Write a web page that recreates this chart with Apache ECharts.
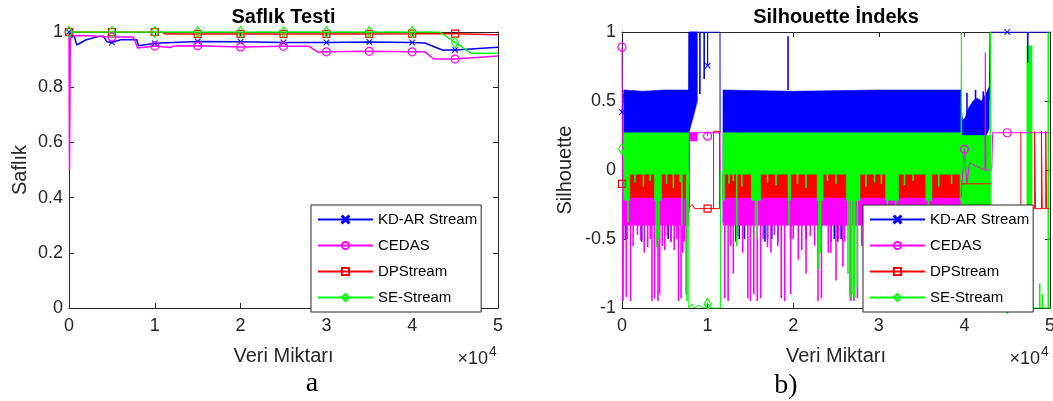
<!DOCTYPE html>
<html>
<head>
<meta charset="utf-8">
<script src="https://cdn.jsdelivr.net/npm/echarts@6/dist/echarts.min.js"></script>
<style>
html,body{margin:0;padding:0;background:#ffffff;}
#chart{width:1053px;height:401px;}
</style>
</head>
<body>
<div id="chart"></div>
<script>
// ---------------- categories / ticks ----------------
const methodNames = ['KD-AR Stream', 'CEDAS', 'DPStream', 'SE-Stream'];
const xTickValues = [0, 10000, 20000, 30000, 40000, 50000];
const xTickLabels = ['0', '1', '2', '3', '4', '5'];
const safYTickValues = [0, 0.2, 0.4, 0.6, 0.8, 1];
const safYTickLabels = ['0', '0.2', '0.4', '0.6', '0.8', '1'];
const silYTickValues = [-1, -0.5, 0, 0.5, 1];
const silYTickLabels = ['-1', '-0.5', '0', '0.5', '1'];

// ---------------- (a) Saflık Testi ----------------
const safKdX = [0, 300, 600, 900, 2000, 3600, 4000, 4400, 5000, 6000, 7500, 7900, 8100, 10000, 15000, 20000, 25000, 30000, 35000, 40000, 41500, 43500, 45000, 50000];
const safKdY = [1.0, 0.98, 0.987, 0.953, 0.972, 0.985, 0.985, 0.965, 0.962, 0.972, 0.973, 0.972, 0.95, 0.959, 0.966, 0.965, 0.962, 0.962, 0.964, 0.962, 0.96, 0.935, 0.935, 0.945];
const safCeX = [0, 60, 150, 1000, 2500, 4000, 5000, 7500, 8000, 10000, 11800, 12200, 15000, 20000, 25000, 28000, 29000, 30000, 35000, 40000, 41500, 42500, 45000, 50000];
const safCeY = [1.0, 0.5, 0.985, 0.987, 0.986, 0.983, 0.982, 0.982, 0.942, 0.949, 0.944, 0.949, 0.95, 0.946, 0.948, 0.948, 0.927, 0.928, 0.93, 0.928, 0.928, 0.902, 0.902, 0.913];
const safDpX = [0, 5000, 10000, 10800, 11200, 15000, 20000, 25000, 30000, 35000, 40000, 42000, 45000, 50000];
const safDpY = [1.0, 1.0, 1.0, 1.0, 0.993, 0.993, 0.993, 0.993, 0.993, 0.993, 0.994, 0.995, 0.994, 0.99];
const safSeX = [0, 5000, 10000, 15000, 20000, 25000, 30000, 35000, 40000, 43200, 45000, 46900, 50000];
const safSeY = [1, 1, 1, 1, 1, 1, 1, 1, 1, 1, 0.962, 0.923, 0.923];

// ---------------- (b) Silhouette İndeks ----------------
// KD-AR Stream
const silKdPathX = [0, 150, 150, 7800, 7850, 9990, 10000, 10010, 11450, 11460, 11460, 42900, 43000, 45000, 47350, 47400, 47450, 50000];
const silKdPathY = [0.42, 0.55, null, 0.30, 1, 1, 0.756, 1, 1, 0.27, null, 0.5, 1, 1, 1, 0.78, 1, 1];
const silKdBandX  = [200, 2500, 5000, 7800, null, 7800, 7900, 8400, 8800, null, 11800, 20000, 30000, 39600, null, 39600, 39800, 40100, 40500, 41000, 41500, 42000, 42500, 42900];
const silKdBandLo = [-0.38, -0.38, -0.38, -0.38, null, 0.27, 0.29, 0.40, 0.50, null, -0.38, -0.38, -0.38, -0.38, null, 0.2, 0.2, 0.16, 0.18, 0.2, 0.2, 0.22, 0.24, 0.3];
const silKdBandHi = [0.58, 0.57, 0.58, 0.58, null, 1, 1, 1, 1, null, 0.58, 0.57, 0.58, 0.58, null, 0.45, 0.36, 0.38, 0.45, 0.5, 0.52, 0.5, 0.55, 0.6];
const silKdSpikeX    = [9100, 9600, 19400, 400, 2300, 5400, 5700, 7100, 13300, 13700, 14300, 16700, 17000, 17500, 18200, 19700, 21500, 24400, 24800, 25200, 25600, 40300, 41300, 42200];
const silKdSpikeFrom = [0.55, 0.66, 0.58, -0.38, -0.38, -0.38, -0.38, -0.38, -0.38, -0.38, -0.38, -0.38, -0.38, -0.38, -0.38, -0.38, -0.38, -0.38, -0.38, -0.38, -0.38, 0.12, 0.12, 0.15];
const silKdSpikeTo   = [1, 1, 0.97, -0.5, -0.52, -0.5, -0.52, -0.5, -0.52, -0.5, -0.5, -0.52, -0.5, -0.5, -0.52, -0.5, -0.5, -0.52, -0.5, -0.52, -0.5, 0.56, 0.58, 0.57];

// CEDAS
const silCePathX = [0, 100, 200, 200, 7850, 7900, 9990, 10000, 10010, 11450, 11500, 11500, 39600, 40000, 40300, 40600, 42400, 42450, 42500, 43200, 43300, 45000, 50000];
const silCePathY = [0.89, -0.95, -0.3, null, -0.3, 0.27, 0.27, 0.245, 0.27, 0.27, -0.2, null, -0.2, 0.15, -0.1, 0.05, 0.0, 0.85, 0.0, 0.0, 0.27, 0.27, 0.27];
const silCeBandX  = [200, 7800, null, 7900, 8800, null, 11800, 39600, null, 39600, 43000];
const silCeBandLo = [-0.40, -0.40, null, 0.21, 0.21, null, -0.40, -0.40, null, -0.35, -0.35];
const silCeBandHi = [-0.12, -0.12, null, 0.27, 0.27, null, -0.12, -0.12, null, -0.05, -0.05];
const silCeSpikeX  = [100, 500, 1000, 2200, 3000, 3500, 3800, 4200, 4400, 5000, 5700, 6600, 6900, 7100, 7500, 12000, 12400, 13000, 14700, 15000, 15400, 15800, 16200, 17400, 18600, 19000, 19700, 20600, 21500, 22900, 23300, 24100, 25000, 25800, 26700, 27100, 27500, 28500, 29500, 30400, 31000, 31300, 32000, 33000, 34800, 36000, 37500, 38500, 39500, 40800, 41300, 41800, 42300,
  600, 1300, 1800, 2600, 3300, 4700, 5300, 6100, 6400, 7300, 12700, 13500, 14100, 16500, 17000, 17800, 18200, 20000, 21000, 22000, 22500, 24400, 25300, 26000, 28000, 29000, 30000, 32500, 33500, 34200, 35200, 35800, 36600, 37000, 38000, 39000];
const silCeSpikeFrom = -0.35;
const silCeSpikeTo = [-0.95, -0.92, -0.95, -0.51, -0.56, -0.95, -0.93, -0.95, -0.9, -0.58, -0.52, -0.95, -0.93, -0.6, -0.9, -0.93, -0.95, -0.75, -0.93, -0.95, -0.9, -0.95, -0.93, -0.6, -0.93, -0.95, -0.9, -0.65, -0.75, -0.95, -0.93, -0.6, -0.8, -0.7, -0.95, -0.95, -0.93, -0.75, -0.7, -0.8, -0.9, -0.88, -0.75, -0.6, -0.9, -0.7, -0.88, -0.65, -0.9, -0.92, -0.9, -0.93, -0.88,
  -0.5, -0.55, -0.47, -0.6, -0.5, -0.55, -0.48, -0.58, -0.5, -0.52, -0.55, -0.48, -0.6, -0.5, -0.56, -0.47, -0.55, -0.5, -0.58, -0.48, -0.55, -0.6, -0.5, -0.52, -0.55, -0.48, -0.6, -0.5, -0.55, -0.47, -0.52, -0.58, -0.5, -0.55, -0.48, -0.6];

// DPStream
const silDpPathX = [0, 200, 200, 7800, 7900, 8200, 8500, 10000, 10700, 10700, 11400, 11400, 10700, 10700, 39600, 43200, 43200, 46600, 46600, 48200, 48200, 48300, 48300, 49000, 49000, 49100, 49100, 49500, 49500, 49600, 49600, 50000];
const silDpPathY = [-0.1, -0.1, null, -0.1, -0.27, -0.25, -0.28, -0.28, -0.28, 0.28, 0.28, -0.28, -0.28, null, -0.1, -0.1, null, 0.28, -0.28, -0.28, 0.28, 0.28, -0.28, -0.28, 0.28, 0.28, -0.28, -0.28, 0.28, 0.28, -0.28, -0.28];
const silDpBandX  = [200, 7800, null, 11800, 39600];
const silDpBandLo = [-0.2, -0.2, null, -0.2, -0.2];
const silDpBandHi = [-0.03, -0.03, null, -0.03, -0.03];

// SE-Stream
const silSePathX = [0, 200, 200, 7790, 7800, 8200, 8400, 9000, 9500, 10000, 10500, 11500, 11510, 11510, 39600, 39650, 39700, 39700, 43000, 43050, 43100, 45000, 50000];
const silSePathY = [0.152, 0.1, null, 0.0, -1, -0.97, -1, -0.98, -1, -0.97, -1, -1, 0.0, null, 0.1, 1, 0.0, null, 0.0, 1, -1, -1, -1];
const silSeBandX  = [200, 900, 900, 3800, 3800, 4600, 4600, 7500, 7500, 7800, null,
  11800, 12000, 12000, 15100, 15100, 16200, 16200, 19400, 19400, 19700, 19700, 22800, 22800, 23500, 23500, 26200, 26200, 27800, 27800, 30800, 30800, 32300, 32300, 35500, 35500, 36200, 36200, 39500, 39500, 39600, null,
  39600, 43000, null, 47300, 47900];
const silSeBandLo = [-0.22, -0.22, -0.03, -0.03, -0.22, -0.22, -0.03, -0.03, -0.22, -0.22, null,
  -0.22, -0.22, -0.03, -0.03, -0.22, -0.22, -0.03, -0.03, -0.22, -0.22, -0.03, -0.03, -0.22, -0.22, -0.03, -0.03, -0.22, -0.22, -0.03, -0.03, -0.22, -0.22, -0.03, -0.03, -0.22, -0.22, -0.03, -0.03, -0.22, -0.22, null,
  -0.3, -0.3, null, -1, -1];
const silSeBandHi = [0.27, 0.27, 0.27, 0.27, 0.27, 0.27, 0.27, 0.27, 0.27, 0.27, null,
  0.27, 0.27, 0.27, 0.27, 0.27, 0.27, 0.27, 0.27, 0.27, 0.27, 0.27, 0.27, 0.27, 0.27, 0.27, 0.27, 0.27, 0.27, 0.27, 0.27, 0.27, 0.27, 0.27, 0.27, 0.27, 0.27, 0.27, 0.27, 0.27, 0.27, null,
  0.25, 0.25, null, 0.9, 0.9];
const silSeSpikeX    = [700, 4000, 4300, 7000, 7600, 13400, 15600, 15800, 19500, 23000, 23200, 26400, 26600, 26800, 27000, 27200, 27500, 31000, 32000, 35800, 40500, 40900, 41500, 42000, 42800, 46100, 46500, 48800, 49100, 49800,
  1500, 2500, 3300, 5200, 6000, 6800, 12500, 13000, 14000, 17000, 18000, 20500, 21500, 24000, 25000, 28500, 29500, 30300, 33000, 34000, 37000, 38500];
const silSeSpikeFrom = [0, 0, 0, 0, 0, 0, 0, 0, 0, 0, 0, 0, 0, 0, 0, 0, 0, 0, 0, 0, 0, 0, 0, 0, 0, -1, -1, -1, -1, -1,
  0, 0, 0, 0, 0, 0, 0, 0, 0, 0, 0, 0, 0, 0, 0, 0, 0, 0, 0, 0, 0, 0];
const silSeSpikeTo   = [-0.38, -0.56, -0.5, -0.4, -0.95, -0.55, -0.4, -0.5, -0.4, -0.72, -0.6, -0.75, -0.92, -0.95, -0.9, -0.93, -0.85, -0.5, -0.55, -0.45, -0.6, -0.9, -0.7, -0.85, -0.9, -0.9, -0.82, -0.82, -0.9, 1,
  -0.09, -0.12, -0.08, -0.1, -0.13, -0.09, -0.1, -0.08, -0.12, -0.09, -0.11, -0.1, -0.13, -0.08, -0.1, -0.12, -0.09, -0.1, -0.11, -0.08, -0.12, -0.1];

// ---------------- styling ----------------
const AX = '#262626';
const FONT = '"Liberation Sans", Arial, Helvetica, sans-serif';
const COLORS = {'KD-AR Stream': '#0000ff', 'CEDAS': '#ff00ff', 'DPStream': '#ff0000', 'SE-Stream': '#00ff00'};
const XMARK = 'path://M0,1 L1,0 L5,4 L9,0 L10,1 L6,5 L10,9 L9,10 L5,6 L1,10 L0,9 L4,5 Z';
const SYM = {
  'KD-AR Stream': {symbol: XMARK, size: 6, solid: true},
  'CEDAS': {symbol: 'circle', size: 8},
  'DPStream': {symbol: 'rect', size: 7},
  'SE-Stream': {symbol: 'diamond', size: [7, 11]}
};

function tickFmt(vals, labels) {
  return function (v) {
    const i = vals.findIndex(t => Math.abs(t - v) < 1e-6);
    return i < 0 ? '' : labels[i];
  };
}

function pathSeries(name, X, Y, axisIdx, width) {
  const c = COLORS[name], s = SYM[name];
  const data = X.map((x, i) => {
    const y = Y[i] == null ? '-' : Y[i];
    const marked = Y[i] != null && x % 5000 === 0 && x < 50000;
    return marked ? {value: [x, y]} : {value: [x, y], symbol: 'none'};
  });
  return {
    type: 'line', name, xAxisIndex: axisIdx, yAxisIndex: axisIdx, data,
    symbol: s.symbol, symbolSize: s.size, symbolKeepAspect: true, showSymbol: true,
    connectNulls: false, animation: false, silent: true,
    lineStyle: {color: c, width: width},
    itemStyle: s.solid ? {color: c, borderColor: c, borderWidth: 0.3}
                       : {color: 'rgba(255,255,255,0)', borderColor: c, borderWidth: 1.2},
    emphasis: {disabled: true}
  };
}

function bandSeries(name, X, LO, HI) {
  const c = COLORS[name];
  const data = [];
  X.forEach((x, i) => { if (x != null) data.push([x, LO[i], HI[i]]); });
  return {
    type: 'custom', name, coordinateSystem: 'cartesian2d', xAxisIndex: 2, yAxisIndex: 2,
    silent: true, animation: false, data, encode: {x: 0, y: [1, 2]},
    renderItem: function (params, api) {
      if (params.dataIndex !== 0) return null;
      const children = [];
      let seg = [];
      const flush = () => {
        if (seg.length > 1) {
          const top = seg.map(i => api.coord([X[i], HI[i]]));
          const bot = seg.slice().reverse().map(i => api.coord([X[i], LO[i]]));
          children.push({type: 'polygon', shape: {points: top.concat(bot)},
            style: {fill: c, stroke: c, lineWidth: 0.6}});
        }
        seg = [];
      };
      for (let i = 0; i < X.length; i++) { if (X[i] == null) flush(); else seg.push(i); }
      flush();
      return {type: 'group', children};
    }
  };
}

function spikeSeries(name, X, FROM, TO) {
  const c = COLORS[name];
  return {
    type: 'custom', name, coordinateSystem: 'cartesian2d', xAxisIndex: 2, yAxisIndex: 2,
    silent: true, animation: false,
    data: X.map((x, i) => [x, Array.isArray(FROM) ? FROM[i] : FROM, TO[i]]),
    encode: {x: 0, y: [1, 2]},
    renderItem: function (params, api) {
      const a = api.coord([api.value(0), api.value(1)]);
      const b = api.coord([api.value(0), api.value(2)]);
      return {type: 'line', shape: {x1: a[0], y1: a[1], x2: b[0], y2: b[1]},
        style: {stroke: c, lineWidth: 1.6}};
    }
  };
}

function xAxisDef(gridIndex, position, withLabels) {
  return {
    gridIndex, type: 'value', position, min: 0, max: 50000, interval: 10000,
    axisLine: {show: true, onZero: false, lineStyle: {color: AX, width: 1}},
    axisTick: {show: true, inside: true, length: 5, lineStyle: {color: AX, width: 1}},
    axisLabel: {show: withLabels, margin: 9, fontSize: 18, color: AX, fontFamily: FONT,
      formatter: tickFmt(xTickValues, xTickLabels)},
    splitLine: {show: false},
    name: withLabels ? 'Veri Miktarı' : '', nameLocation: 'middle', nameGap: 38,
    nameTextStyle: {fontSize: 20, color: AX, fontFamily: FONT}
  };
}
function yAxisDef(gridIndex, position, withLabels, min, max, interval, vals, labels, name, gap) {
  return {
    gridIndex, type: 'value', position, min, max, interval,
    axisLine: {show: true, onZero: false, lineStyle: {color: AX, width: 1}},
    axisTick: {show: true, inside: true, length: 5, lineStyle: {color: AX, width: 1}},
    axisLabel: {show: withLabels, margin: 6, fontSize: 18, color: AX, fontFamily: FONT,
      formatter: tickFmt(vals, labels)},
    splitLine: {show: false},
    name: withLabels ? name : '', nameLocation: 'middle', nameRotate: 90, nameGap: gap,
    nameTextStyle: {fontSize: 20, color: AX, fontFamily: FONT}
  };
}

const legendCommon = {
  data: methodNames, orient: 'vertical', top: 205,
  itemWidth: 55, itemHeight: 9, itemGap: 11, padding: [7, 4, 7, 6],
  backgroundColor: '#ffffff', borderColor: AX, borderWidth: 1, borderRadius: 0,
  selectedMode: false,
  textStyle: {fontSize: 15, color: '#000000', fontFamily: FONT}
};

const series = [
  pathSeries('KD-AR Stream', safKdX, safKdY, 0, 1.5),
  pathSeries('CEDAS', safCeX, safCeY, 0, 1.5),
  pathSeries('DPStream', safDpX, safDpY, 0, 1.5),
  pathSeries('SE-Stream', safSeX, safSeY, 0, 1.5),

  bandSeries('KD-AR Stream', silKdBandX, silKdBandLo, silKdBandHi),
  spikeSeries('KD-AR Stream', silKdSpikeX, silKdSpikeFrom, silKdSpikeTo),
  pathSeries('KD-AR Stream', silKdPathX, silKdPathY, 2, 1),

  bandSeries('CEDAS', silCeBandX, silCeBandLo, silCeBandHi),
  spikeSeries('CEDAS', silCeSpikeX, silCeSpikeFrom, silCeSpikeTo),
  pathSeries('CEDAS', silCePathX, silCePathY, 2, 1),

  bandSeries('DPStream', silDpBandX, silDpBandLo, silDpBandHi),
  pathSeries('DPStream', silDpPathX, silDpPathY, 2, 1),

  bandSeries('SE-Stream', silSeBandX, silSeBandLo, silSeBandHi),
  spikeSeries('SE-Stream', silSeSpikeX, silSeSpikeFrom, silSeSpikeTo),
  pathSeries('SE-Stream', silSePathX, silSePathY, 2, 1)
];

const chart = echarts.init(document.getElementById('chart'), null, {renderer: 'canvas'});
chart.setOption({
  animation: false,
  backgroundColor: '#ffffff',
  title: [
    {text: 'Saflık Testi', left: 283.5, top: 7, padding: 0, textAlign: 'center',
      textStyle: {fontSize: 20, fontWeight: 'bold', color: '#000000', fontFamily: FONT}},
    {text: 'Silhouette İndeks', left: 836, top: 7, padding: 0, textAlign: 'center',
      textStyle: {fontSize: 20, fontWeight: 'bold', color: '#000000', fontFamily: FONT}}
  ],
  grid: [
    {left: 69, top: 32, width: 429, height: 276, containLabel: false, outerBoundsMode: 'none'},
    {left: 622, top: 32, width: 428, height: 276, containLabel: false, outerBoundsMode: 'none'}
  ],
  xAxis: [
    xAxisDef(0, 'bottom', true), xAxisDef(0, 'top', false),
    xAxisDef(1, 'bottom', true), xAxisDef(1, 'top', false)
  ],
  yAxis: [
    yAxisDef(0, 'left', true, 0, 1, 0.2, safYTickValues, safYTickLabels, 'Saflık', 39),
    yAxisDef(0, 'right', false, 0, 1, 0.2, safYTickValues, safYTickLabels, '', 0),
    yAxisDef(1, 'left', true, -1, 1, 0.5, silYTickValues, silYTickLabels, 'Silhouette', 47),
    yAxisDef(1, 'right', false, -1, 1, 0.5, silYTickValues, silYTickLabels, '', 0)
  ],
  legend: [
    Object.assign({}, legendCommon, {left: 311}),
    Object.assign({}, legendCommon, {left: 863})
  ],
  graphic: [
    {type: 'text', x: 488, y: 358.8, silent: true, style: {text: '×10', fill: AX, fontSize: 18, fontFamily: FONT, align: 'right', verticalAlign: 'middle', textAlign: 'right', textVerticalAlign: 'middle'}},
    {type: 'text', x: 489, y: 351.8, silent: true, style: {text: '4', fill: AX, fontSize: 14, fontFamily: FONT, align: 'left', verticalAlign: 'middle', textAlign: 'left', textVerticalAlign: 'middle'}},
    {type: 'text', x: 1040, y: 358.8, silent: true, style: {text: '×10', fill: AX, fontSize: 18, fontFamily: FONT, align: 'right', verticalAlign: 'middle', textAlign: 'right', textVerticalAlign: 'middle'}},
    {type: 'text', x: 1041, y: 351.8, silent: true, style: {text: '4', fill: AX, fontSize: 14, fontFamily: FONT, align: 'left', verticalAlign: 'middle', textAlign: 'left', textVerticalAlign: 'middle'}},
    {type: 'text', x: 312, y: 384, silent: true, style: {text: 'a', fill: '#000000', fontSize: 28, fontFamily: '"Liberation Serif", "Times New Roman", serif', align: 'center', verticalAlign: 'middle', textAlign: 'center', textVerticalAlign: 'middle'}},
    {type: 'text', x: 786, y: 386, silent: true, style: {text: 'b)', fill: '#000000', fontSize: 28, fontFamily: '"Liberation Serif", "Times New Roman", serif', align: 'center', verticalAlign: 'middle', textAlign: 'center', textVerticalAlign: 'middle'}}
  ],
  series
});
</script>
</body>
</html>
